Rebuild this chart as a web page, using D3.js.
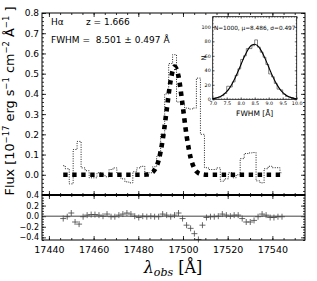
<!DOCTYPE html>
<html><head><meta charset="utf-8">
<script src="https://cdn.jsdelivr.net/npm/d3@7/dist/d3.min.js"></script>
<style>
body{margin:0;background:#fff}
text{font-family:"DejaVu Sans",sans-serif;fill:#000}
</style>
</head><body>
<svg id="c" width="317" height="281"></svg>
<script>
// ---------------- data ----------------
const wavelength = [17446.4,17448.2,17450.0,17451.7,17453.5,17455.3,17457.1,17458.9,17460.6,17462.4,
  17464.2,17466.0,17467.8,17469.5,17471.3,17473.1,17474.9,17476.7,17478.4,17480.2,
  17482.0,17483.8,17485.6,17487.3,17489.1,17490.9,17492.7,17494.5,17496.2,17498.0,
  17499.8,17501.6,17503.4,17505.1,17506.9,17508.7,17510.5,17512.3,17514.0,17515.8,
  17517.6,17519.4,17521.2,17522.9,17524.7,17526.5,17528.3,17530.1,17531.8,17533.6,
  17535.4,17537.2,17539.0,17540.7,17542.5,17544.3];
const flux = [0.045,0.03,-0.045,0.125,0.165,0.034,0.02,-0.015,-0.015,0.01,
  0.0,-0.01,0.026,0.034,0.005,-0.02,-0.035,-0.04,0.015,0.034,
  0.042,0.0,0.01,0.04,0.09,0.2,0.40,0.55,0.594,0.36,
  0.347,0.33,0.325,0.33,0.478,0.2,0.035,0.026,0.026,0.034,
  -0.032,-0.02,0.01,-0.015,0.0,0.08,0.105,0.108,0.11,-0.03,
  -0.04,0.03,0.042,0.035,0.035,0.01];
const model = [0,0,0,0,0,0,0,0,0,0,
  0,0,0,0,0,0,0,0,0,0,
  0,0.001,0.007,0.024,0.072,0.172,0.320,0.468,0.535,0.487,
  0.347,0.194,0.085,0.031,0.0085,0.002,0,0,0,0,
  0,0,0,0,0,0,0,0,0,0,
  0,0,0,0,0,0];
const residual = [-0.045,-0.01,0.06,-0.11,-0.15,-0.01,0.02,0.03,0.03,0.02,
  0.0,0.04,-0.01,-0.01,0.02,0.04,0.06,0.04,0.0,-0.025,
  0.0,-0.01,0.0,-0.01,-0.01,0.04,0.02,-0.01,0.02,0.06,
  -0.045,-0.17,-0.23,-0.33,-0.44,-0.17,-0.025,-0.01,-0.01,0.0,
  0.04,0.02,0.0,0.02,0.02,-0.045,-0.11,-0.11,-0.08,-0.01,
  0.04,0.02,-0.025,-0.025,-0.01,-0.01];

const binLeft = [7.0,7.1,7.2,7.3,7.4,7.5,7.6,7.7,7.8,7.9,8.0,8.1,8.2,8.3,8.4,8.5,8.6,8.7,8.8,8.9,
  9.0,9.1,9.2,9.3,9.4,9.5,9.6,9.7,9.8,9.9];
const binCount = [1,2,3,5,8,18,17,24,33,42,55,60,70,70,74,82,72,65,58,48,
  35,31,22,14,13,7,4,3,2,1];
const binWidth = 0.1;
const fitX = [7.0,7.1,7.2,7.3,7.4,7.5,7.6,7.7,7.8,7.9,8.0,8.1,8.2,8.3,8.4,8.5,8.6,8.7,8.8,8.9,
  9.0,9.1,9.2,9.3,9.4,9.5,9.6,9.7,9.8,9.9,10.0];
const fitN = [0.9,1.6,2.7,4.4,7.0,10.6,15.5,21.8,29.3,37.9,47.1,56.2,64.4,70.9,74.9,76.0,74.0,69.3,62.2,53.7,
  44.5,35.4,27.1,19.9,14.0,9.5,6.2,3.8,2.3,1.3,0.7];

const waveTicks = [17440,17460,17480,17500,17520,17540];
const fluxTicks = [0.0,0.1,0.2,0.3,0.4,0.5,0.6,0.7,0.8];
const residTicks = [-0.4,-0.2,0.0,0.2,0.4];
const insetXTicks = [7.0,7.5,8.0,8.5,9.0,9.5,10.0];
const insetYTicks = [0,20,40,60,80,100];

// ---------------- layout ----------------
const svg = d3.select("#c");
const L = 42, R = 305, T = 13, MID = 195, B = 240;
const x = d3.scaleLinear().domain([17436.9, 17554.6]).range([L, R]);
const y = d3.scaleLinear().domain([-0.1, 0.8]).range([MID, T]);
const yr = d3.scaleLinear().domain([-0.45, 0.4]).range([B, MID]);

function axisGroup(axis, tx, ty) {
  const g = svg.append("g").attr("transform", `translate(${tx},${ty})`).call(axis);
  g.select(".domain").remove();
  g.selectAll("line").attr("stroke", "#000").attr("stroke-width", 0.8);
  return g;
}
function noLabels(a){ return a.tickFormat(""); }

const waveMinor = d3.range(17440, 17555, 5);
const fluxMinor = d3.range(-0.1, 0.801, 0.02);
const resMinor = d3.range(-0.45, 0.401, 0.05);

// ----- upper panel axes -----
axisGroup(noLabels(d3.axisBottom(x).tickValues(waveMinor).tickSize(-2)), 0, MID);
axisGroup(noLabels(d3.axisBottom(x).tickValues(waveTicks).tickSize(-4)), 0, MID);
axisGroup(noLabels(d3.axisTop(x).tickValues(waveMinor).tickSize(-2)), 0, T);
axisGroup(noLabels(d3.axisTop(x).tickValues(waveTicks).tickSize(-4)), 0, T);
axisGroup(noLabels(d3.axisLeft(y).tickValues(fluxMinor).tickSize(-2)), L, 0);
const yl = axisGroup(d3.axisLeft(y).tickValues(fluxTicks).tickSize(-4).tickPadding(3).tickFormat(d3.format(".1f")), L, 0);
yl.selectAll("text").attr("font-size", 9).attr("font-family","DejaVu Sans");
axisGroup(noLabels(d3.axisRight(y).tickValues(fluxMinor).tickSize(-2)), R, 0);
axisGroup(noLabels(d3.axisRight(y).tickValues(fluxTicks).tickSize(-4)), R, 0);

// ----- lower panel axes -----
axisGroup(noLabels(d3.axisTop(x).tickValues(waveMinor).tickSize(-2)), 0, MID);
axisGroup(noLabels(d3.axisTop(x).tickValues(waveTicks).tickSize(-4)), 0, MID);
axisGroup(noLabels(d3.axisBottom(x).tickValues(waveMinor).tickSize(-2)), 0, B);
const xl = axisGroup(d3.axisBottom(x).tickValues(waveTicks).tickSize(-4).tickPadding(6).tickFormat(d3.format("d")), 0, B);
xl.selectAll("text").attr("font-size", 9.5).attr("font-family","DejaVu Sans");
axisGroup(noLabels(d3.axisLeft(yr).tickValues(resMinor).tickSize(-2)), L, 0);
const rl = axisGroup(d3.axisLeft(yr).tickValues(residTicks).tickSize(-4).tickPadding(3).tickFormat(d3.format(".1f")), L, 0);
rl.selectAll("text").attr("font-size", 8).attr("font-family","DejaVu Sans");
axisGroup(noLabels(d3.axisRight(yr).tickValues(resMinor).tickSize(-2)), R, 0);
axisGroup(noLabels(d3.axisRight(yr).tickValues(residTicks).tickSize(-4)), R, 0);

// ----- data marks -----
const pts = wavelength.map((w, i) => ({w, f: flux[i], m: model[i], r: residual[i]}));
svg.append("path").datum(pts)
  .attr("d", d3.line().curve(d3.curveStep).x(d => x(d.w)).y(d => y(d.f)))
  .attr("fill", "none").attr("stroke", "#222").attr("stroke-width", 1)
  .attr("stroke-dasharray", "1,1.4");
svg.append("path").datum(pts)
  .attr("d", d3.line().curve(d3.curveMonotoneX).x(d => x(d.w)).y(d => y(d.m)))
  .attr("fill", "none").attr("stroke", "#000").attr("stroke-width", 4.6)
  .attr("stroke-dasharray", "4.4,4.6");

svg.append("line").attr("x1", L).attr("x2", R).attr("y1", yr(0)).attr("y2", yr(0))
  .attr("stroke", "#444").attr("stroke-width", 1);
const plus = svg.append("g");
pts.forEach(d => {
  const cx = x(d.w), cy = yr(d.r), s = 3;
  plus.append("path").attr("d", `M${cx - s},${cy}H${cx + s}M${cx},${cy - s}V${cy + s}`)
    .attr("stroke", "#444").attr("stroke-width", 0.8).attr("fill", "none");
});

// frames
svg.append("rect").attr("x", L).attr("y", T).attr("width", R - L).attr("height", MID - T)
  .attr("fill", "none").attr("stroke", "#000").attr("stroke-width", 1);
svg.append("rect").attr("x", L).attr("y", MID).attr("width", R - L).attr("height", B - MID)
  .attr("fill", "none").attr("stroke", "#000").attr("stroke-width", 1);
svg.append("line").attr("x1", L).attr("x2", R).attr("y1", MID).attr("y2", MID)
  .attr("stroke", "#000").attr("stroke-width", 2);

// annotations
svg.append("text").attr("x", 51).attr("y", 25).attr("font-size", 9).text("Hα");
svg.append("text").attr("x", 86).attr("y", 25).attr("font-size", 9).text("z = 1.666");
svg.append("text").attr("x", 51).attr("y", 43).attr("font-size", 9).attr("xml:space","preserve")
  .style("white-space","pre").text("FWHM =  8.501 ± 0.497 Å");

// y label
const ylab = svg.append("text").attr("transform", "translate(14,101) rotate(-90)")
  .attr("text-anchor", "middle").attr("font-size", 12.8);
ylab.append("tspan").text("Flux [10");
ylab.append("tspan").attr("dy", -5).attr("font-size", 8.5).text("−17");
ylab.append("tspan").attr("dy", 5).text(" erg s");
ylab.append("tspan").attr("dy", -5).attr("font-size", 8.5).text("−1");
ylab.append("tspan").attr("dy", 5).text(" cm");
ylab.append("tspan").attr("dy", -5).attr("font-size", 8.5).text("−2");
ylab.append("tspan").attr("dy", 5).text(" Å");
ylab.append("tspan").attr("dy", -5).attr("font-size", 8.5).text("−1");
ylab.append("tspan").attr("dy", 5).text(" ]");

// x label
const xlab = svg.append("text").attr("x", 173).attr("y", 273).attr("text-anchor", "middle")
  .attr("font-size", 16).style("font-family", "'DejaVu Serif',serif");
xlab.append("tspan").attr("font-style", "italic").text("λ");
xlab.append("tspan").attr("font-style", "italic").attr("font-size", 11).attr("dy", 3).text("obs");
xlab.append("tspan").attr("dy", -3).text(" [Å]");

// ----- inset -----
const IL = 212.7, IR = 296.7, IT = 16.7, IB = 99.3;
const ix = d3.scaleLinear().domain([7.0, 10.0]).range([IL, IR]);
const iy = d3.scaleLinear().domain([0, 114]).range([IB, IT]);
svg.append("rect").attr("x", IL).attr("y", IT).attr("width", IR - IL).attr("height", IB - IT)
  .attr("fill", "#fff");
const ixMinor = d3.range(7.0, 10.01, 0.1);
const iyMinor = d3.range(0, 114, 5);
function insetAxis(axis, tx, ty){
  const g = axisGroup(axis, tx, ty);
  g.selectAll("line").attr("stroke-width", 0.5);
  g.selectAll("text").attr("font-size", 4.8).attr("font-family","DejaVu Sans");
  return g;
}
insetAxis(noLabels(d3.axisBottom(ix).tickValues(ixMinor).tickSize(-1)), 0, IB);
insetAxis(d3.axisBottom(ix).tickValues(insetXTicks).tickSize(-2).tickPadding(2).tickFormat(d3.format(".1f")), 0, IB);
insetAxis(noLabels(d3.axisTop(ix).tickValues(ixMinor).tickSize(-1)), 0, IT);
insetAxis(noLabels(d3.axisTop(ix).tickValues(insetXTicks).tickSize(-2)), 0, IT);
insetAxis(noLabels(d3.axisLeft(iy).tickValues(iyMinor).tickSize(-1)), IL, 0);
insetAxis(d3.axisLeft(iy).tickValues(insetYTicks).tickSize(-2).tickPadding(2), IL, 0);
insetAxis(noLabels(d3.axisRight(iy).tickValues(iyMinor).tickSize(-1)), IR, 0);
insetAxis(noLabels(d3.axisRight(iy).tickValues(insetYTicks).tickSize(-2)), IR, 0);

const stepPts = [];
binLeft.forEach((b, i) => { stepPts.push([b, binCount[i]]); stepPts.push([b + binWidth, binCount[i]]); });
svg.append("path").datum(stepPts)
  .attr("d", d3.line().x(d => ix(d[0])).y(d => iy(d[1])))
  .attr("fill", "none").attr("stroke", "#333").attr("stroke-width", 0.6);
svg.append("path").datum(fitX.map((v, i) => [v, fitN[i]]))
  .attr("d", d3.line().curve(d3.curveMonotoneX).x(d => ix(d[0])).y(d => iy(d[1])))
  .attr("fill", "none").attr("stroke", "#000").attr("stroke-width", 1.1);
svg.append("rect").attr("x", IL).attr("y", IT).attr("width", IR - IL).attr("height", IB - IT)
  .attr("fill", "none").attr("stroke", "#000").attr("stroke-width", 0.8);
svg.append("text").attr("x", (IL + IR) / 2).attr("y", 30).attr("text-anchor", "middle")
  .attr("font-size", 5.8).text("N=1000, μ=8.486, σ=0.497");
svg.append("text").attr("x", (IL + IR) / 2).attr("y", 116).attr("text-anchor", "middle")
  .attr("font-size", 7.5).text("FWHM [Å]");
svg.append("text").attr("transform", `translate(206,${(IT + IB) / 2}) rotate(-90)`)
  .attr("text-anchor", "middle").attr("font-size", 6.5).text("N");
</script>
</body></html>
